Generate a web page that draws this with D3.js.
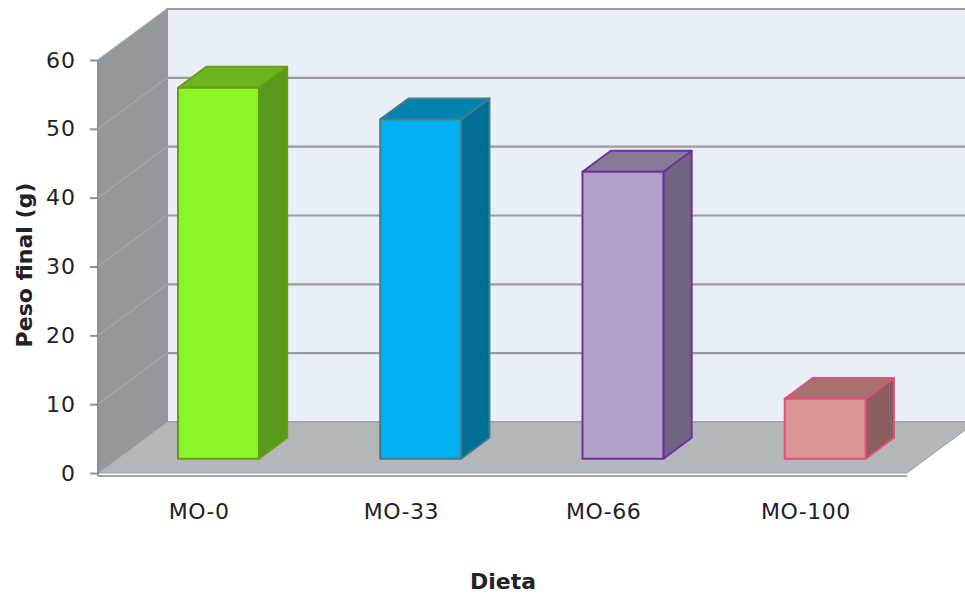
<!DOCTYPE html>
<html>
<head>
<meta charset="utf-8">
<script src="https://cdn.jsdelivr.net/npm/d3@7"></script>
<style>
  html, body { margin: 0; padding: 0; background: #ffffff; }
  svg { display: block; }
  text { font-family: "DejaVu Sans", "Open Sans", sans-serif; fill: #222; }
</style>
</head>
<body>
<svg id="chart" width="965" height="594"></svg>
<script>
// Final weight per diet
const categories = ["MO-0", "MO-33", "MO-66", "MO-100"];
const values = [53.9, 49.3, 41.7, 8.7];
const yTicks = [0, 10, 20, 30, 40, 50, 60];
const frontColors = ["#8cf52a", "#00b0f0", "#b2a1c7", "#d99594"];
const topColors   = ["#6bb523", "#0083b1", "#877a96", "#a6716f"];
const sideColors  = ["#5a9a1a", "#006e95", "#706580", "#8a5e5c"];
const edgeColors  = ["#6a9d12", "#3f7e8c", "#7030a0", "#e0507a"];

const svg = d3.select("#chart");

// Oblique 3D projection: depth z in [0,1] shifts right and up
const depthDX = 69, depthDY = -51;
const x = d3.scaleBand().domain(categories).range([98, 907]).paddingInner(0.6).paddingOuter(0.3);
const y = d3.scaleLinear().domain([0, 60]).range([473, 60]);
const P = (px, v, z) => [px + z * depthDX, y(v) + z * depthDY];
const poly = pts => "M" + pts.map(p => p.join(",")).join("L") + "Z";

const x0 = 98, x1 = 907;

// Back wall
svg.append("path")
  .attr("d", poly([P(x0, 0, 1), P(x1 + 20, 0, 1), P(x1 + 20, 60, 1), P(x0, 60, 1)]))
  .attr("fill", "#e8eff7").attr("stroke", "#a6a8aa").attr("stroke-width", 2);

// Left wall
svg.append("path")
  .attr("d", poly([P(x0, 0, 0), P(x0, 0, 1), P(x0, 60, 1), P(x0, 60, 0)]))
  .attr("fill", "#94979b").attr("stroke", "#8a8d90").attr("stroke-width", 1);

// Floor
svg.append("path")
  .attr("d", poly([P(x0, 0, 0), P(x1, 0, 0), P(x1, 0, 1), P(x0, 0, 1)]))
  .attr("fill", "#b3b7ba").attr("stroke", "#9c9fa2").attr("stroke-width", 1);

// Gridlines on back and left walls
const grid = svg.append("g");
yTicks.filter(t => t > 0).forEach(t => {
  const a = P(x0, t, 0), b = P(x0, t, 1), c = P(x1 + 20, t, 1);
  grid.append("path").attr("d", `M${a}L${b}`).attr("stroke", "#a4a7aa").attr("stroke-width", 1.5).attr("fill", "none");
  grid.append("path").attr("d", `M${b}L${c}`).attr("stroke", "#9a9c9e").attr("stroke-width", 2.2).attr("fill", "none");
});

// Front axis lines
svg.append("line").attr("x1", x0).attr("x2", x0).attr("y1", y(60)).attr("y2", y(0) + 3)
  .attr("stroke", "#8f9295").attr("stroke-width", 2);
svg.append("line").attr("x1", x0).attr("x2", x1).attr("y1", y(0) + 3).attr("y2", y(0) + 3)
  .attr("stroke", "#a0a3a6").attr("stroke-width", 2);

// Y axis ticks and labels
const yAxis = d3.axisLeft(y).tickValues(yTicks).tickSize(8).tickPadding(14).tickFormat(d3.format("d"));
const ya = svg.append("g").attr("transform", `translate(${x0},0)`).call(yAxis);
ya.select(".domain").remove();
ya.selectAll(".tick line").attr("stroke", "#8f9295").attr("stroke-width", 2);
ya.selectAll(".tick text").style("font-family", "'DejaVu Sans', sans-serif")
  .style("font-size", "22px").style("letter-spacing", "1px").attr("fill", "#222");

// Bars
const zf = 0.28, zb = 0.69;
const bars = svg.append("g");
categories.forEach((c, i) => {
  const v = values[i];
  const l = x(c), r = x(c) + x.bandwidth();
  const g = bars.append("g").attr("stroke", edgeColors[i]).attr("stroke-width", 2).attr("stroke-linejoin", "round");
  g.append("path").attr("fill", sideColors[i])
    .attr("d", poly([P(r, 0, zf), P(r, 0, zb), P(r, v, zb), P(r, v, zf)]));
  g.append("path").attr("fill", topColors[i])
    .attr("d", poly([P(l, v, zf), P(r, v, zf), P(r, v, zb), P(l, v, zb)]));
  g.append("path").attr("fill", frontColors[i])
    .attr("d", poly([P(l, 0, zf), P(r, 0, zf), P(r, v, zf), P(l, v, zf)]));
});

// Category labels
const xAxis = d3.axisBottom(x).tickSize(0).tickPadding(0);
const xa = svg.append("g").attr("transform", `translate(0,${y(0) + 46})`).call(xAxis);
xa.select(".domain").remove();
xa.selectAll(".tick text").style("font-family", "'DejaVu Sans', sans-serif")
  .style("font-size", "22px").style("letter-spacing", "0.5px").attr("fill", "#222").attr("dy", "0");

// Axis titles
svg.append("text").attr("x", 503).attr("y", 589).attr("text-anchor", "middle")
  .style("font-size", "22px").style("font-weight", "bold").attr("fill", "#111").text("Dieta");
svg.append("text").attr("transform", "translate(32,265) rotate(-90)").attr("text-anchor", "middle")
  .style("font-size", "22px").style("font-weight", "bold").attr("fill", "#111").text("Peso final (g)");
</script>
</body>
</html>
